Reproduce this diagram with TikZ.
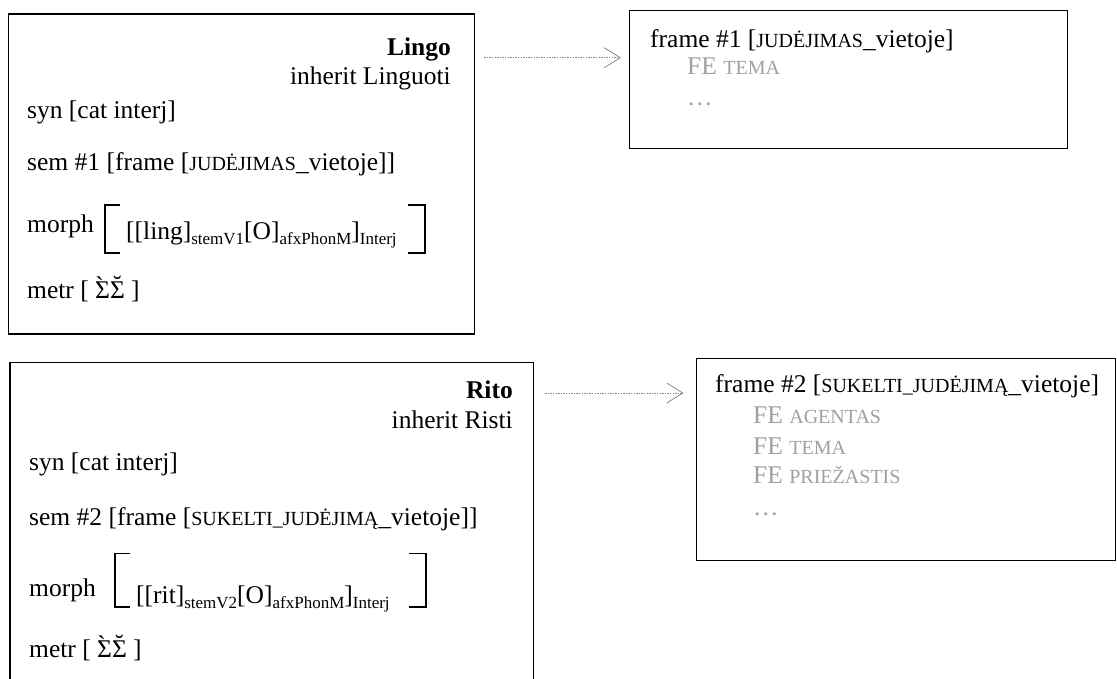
\documentclass[tikz,border=0pt]{standalone}
\usepackage{fontspec}
\setmainfont{Liberation Serif}
\newfontfamily\plainserif{Liberation Serif}
\usetikzlibrary{arrows.meta}
\definecolor{fegray}{RGB}{160,160,160}
\definecolor{linkgray}{RGB}{135,135,135}
% small capitals and lowered indices as they appear in the lexicon entries
\newcommand\smc[1]{{\fontsize{20}{20}\selectfont #1}}
\newcommand\subs[1]{\raisebox{-5pt}{\fontsize{17}{17}\selectfont #1}}
% capital sigma with an accent set above it: #1 accent, #2 raise, #3 shift
\newcommand\sigwith[3]{\leavevmode\setbox0\hbox{Σ}%
  \rlap{\hbox to\wd0{\hss\kern#3\raisebox{#2}{#1}\hss}}\box0}
\newcommand\metrval{\sigwith{{\plainserif\symbol{"60}}}{4pt}{-6pt}\sigwith{˘}{4.5pt}{0pt}}

\begin{document}
\begin{tikzpicture}[x=1pt,y=-1pt,
  txt/.style={inner sep=0pt, font=\fontsize{25.5}{30}\selectfont},
  lft/.style={txt, anchor=base west},
  rgt/.style={txt, anchor=base east},
  fe/.style={lft, text=fegray},
  box/.style={draw, line width=1.2pt, inner sep=0pt, anchor=north west},
  link/.style={draw=linkgray, line width=0.9pt, dash pattern=on 1.3pt off 1.3pt,
    -{Straight Barb[length=16pt,width=20pt,line width=0.8pt]}},
  brk/.style={line width=1.3pt}]

\useasboundingbox (0,0) rectangle (1117,678);
\clip (0,0) rectangle (1117,678);

% lexicon entry boxes and frame boxes
\node[box, minimum width=466.5pt, minimum height=320pt] (lingo) at (7.5,13.4) {};
\node[box, minimum width=438pt, minimum height=138pt] (frame1) at (629,10) {};
\node[box, minimum width=523.7pt, minimum height=330pt] (rito) at (9.3,362) {};
\node[box, minimum width=419pt, minimum height=202pt] (frame2) at (695.5,358) {};

% entry: Lingo
\node[rgt] (lingoname) at (451,55) {\bfseries Lingo};
\node[rgt] (lingoinh) at (451,84) {inherit Linguoti};
\node[lft] (lingosyn) at (27,118) {syn [cat interj]};
\node[lft] (lingosem) at (27,170) {sem \#1 [frame [\smc{JUDĖJIMAS}\_vietoje]]};
\node[lft] (lingomorph) at (27,232) {morph};
\node[lft] (lingoform) at (126,239) {[[ling]\subs{stemV1}[O]\subs{afxPhonM}]\subs{Interj}};
\node[lft] (lingometr) at (27,298) {metr [ \metrval{} ]};
\draw[brk] (120,205) -- (105,205) -- (105,253) -- (120,253);
\draw[brk] (408,205) -- (425,205) -- (425,253) -- (408,253);

% entry: Rito
\node[rgt] (riton) at (513,398) {\bfseries Rito};
\node[rgt] (ritoinh) at (513,428) {inherit Risti};
\node[lft] (ritosyn) at (29,470) {syn [cat interj]};
\node[lft] (ritosem) at (29,525) {sem \#2 [frame [\smc{SUKELTI\_JUDĖJIMĄ}\_vietoje]]};
\node[lft] (ritomorph) at (29,596) {morph};
\node[lft] (ritoform) at (136,603) {[[rit]\subs{stemV2}[O]\subs{afxPhonM}]\subs{Interj}};
\node[lft] (ritometr) at (29,657) {metr [ \metrval{} ]};
\draw[brk] (130,553.6) -- (115,553.6) -- (115,607) -- (130,607);
\draw[brk] (409,553.6) -- (426,553.6) -- (426,607) -- (409,607);

% frame #1
\node[lft] (f1title) at (650,47) {frame \#1 [\smc{JUDĖJIMAS}\_vietoje]};
\node[fe] (f1tema) at (687,74) {FE \smc{TEMA}};
\node[fe] (f1more) at (687,105) {…};

% frame #2
\node[lft] (f2title) at (715,392) {frame \#2 [\smc{SUKELTI\_JUDĖJIMĄ}\_vietoje]};
\node[fe] (f2agent) at (753,423) {FE \smc{AGENTAS}};
\node[fe] (f2tema) at (753,454) {FE \smc{TEMA}};
\node[fe] (f2cause) at (753,483) {FE \smc{PRIEŽASTIS}};
\node[fe] (f2more) at (753,515) {…};

% links from entries to their frames
\coordinate (row1) at (0,57.7);
\coordinate (row2) at (0,393);
\draw[link, shorten <=9pt, shorten >=8pt] (lingo.east |- row1) -- (frame1.west |- row1);
\draw[link, shorten <=11pt, shorten >=12pt] (rito.east |- row2) -- (frame2.west |- row2);
\end{tikzpicture}
\end{document}
